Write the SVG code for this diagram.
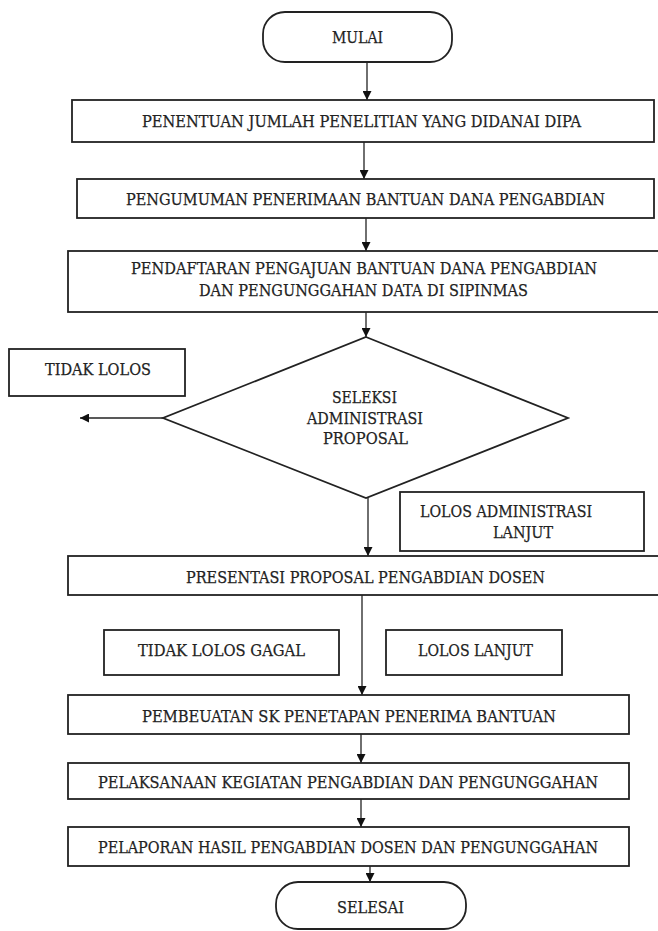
<svg xmlns="http://www.w3.org/2000/svg" width="658" height="931" viewBox="0 0 658 931">
<style>
.box{fill:#fff;stroke:#222;stroke-width:1.8}
.t{font-family:"DejaVu Serif","Liberation Serif",serif;font-size:16px;fill:#222;stroke:#222;stroke-width:0.25;text-anchor:middle;dominant-baseline:central}
.c{fill:none;stroke:#222;stroke-width:1.3}
</style>
<defs>
<marker id="ah" viewBox="0 0 10 10" refX="10" refY="5" markerWidth="9" markerHeight="9" markerUnits="userSpaceOnUse" orient="auto">
<path d="M0,0 L10,5 L0,10 z" fill="#111"/>
</marker>
</defs>
<rect width="658" height="931" fill="#fff"/>
<g id="connectors">
<line class="c" x1="367" y1="62" x2="367" y2="100" marker-end="url(#ah)"/>
<line class="c" x1="364" y1="142" x2="364" y2="179" marker-end="url(#ah)"/>
<line class="c" x1="366" y1="218" x2="366" y2="251" marker-end="url(#ah)"/>
<line class="c" x1="366" y1="312" x2="366" y2="337" marker-end="url(#ah)"/>
<line class="c" x1="163" y1="418" x2="80" y2="418" marker-end="url(#ah)"/>
<line class="c" x1="368" y1="498" x2="368" y2="556" marker-end="url(#ah)"/>
<line class="c" x1="362" y1="595" x2="362" y2="695" marker-end="url(#ah)"/>
<line class="c" x1="361" y1="734" x2="361" y2="763" marker-end="url(#ah)"/>
<line class="c" x1="361" y1="799" x2="361" y2="827" marker-end="url(#ah)"/>
<line class="c" x1="370" y1="866" x2="370" y2="882" marker-end="url(#ah)"/>
</g>
<g id="mulai">
<rect class="box" x="263" y="12" width="189" height="50" rx="22"/>
<text class="t" x="357.5" y="37" textLength="51" lengthAdjust="spacingAndGlyphs">MULAI</text>
</g>
<g id="penentuan">
<rect class="box" x="72" y="100" width="582" height="42"/>
<text class="t" x="361.5" y="121" textLength="439" lengthAdjust="spacingAndGlyphs">PENENTUAN JUMLAH PENELITIAN YANG DIDANAI DIPA</text>
</g>
<g id="pengumuman">
<rect class="box" x="77" y="179" width="577" height="39"/>
<text class="t" x="365.5" y="199" textLength="479" lengthAdjust="spacingAndGlyphs">PENGUMUMAN PENERIMAAN BANTUAN DANA PENGABDIAN</text>
</g>
<g id="pendaftaran">
<rect class="box" x="68" y="251" width="600" height="61"/>
<text class="t" x="364" y="268" textLength="466" lengthAdjust="spacingAndGlyphs">PENDAFTARAN PENGAJUAN BANTUAN DANA PENGABDIAN</text>
<text class="t" x="363.5" y="290" textLength="329" lengthAdjust="spacingAndGlyphs">DAN PENGUNGGAHAN DATA DI SIPINMAS</text>
</g>
<g id="tidak-lolos">
<rect class="box" x="9" y="349" width="176" height="47"/>
<text class="t" x="98" y="369" textLength="106" lengthAdjust="spacingAndGlyphs">TIDAK LOLOS</text>
</g>
<g id="seleksi">
<polygon class="box" points="366,337 568,418 366,498 163,418"/>
<text class="t" x="364.5" y="397" textLength="65" lengthAdjust="spacingAndGlyphs">SELEKSI</text>
<text class="t" x="365" y="418" textLength="116" lengthAdjust="spacingAndGlyphs">ADMINISTRASI</text>
<text class="t" x="365.5" y="438" textLength="85" lengthAdjust="spacingAndGlyphs">PROPOSAL</text>
</g>
<g id="lolos-administrasi">
<rect class="box" x="400" y="492" width="244" height="59"/>
<text class="t" x="506" y="511" textLength="172" lengthAdjust="spacingAndGlyphs">LOLOS ADMINISTRASI</text>
<text class="t" x="523" y="532" textLength="60" lengthAdjust="spacingAndGlyphs">LANJUT</text>
</g>
<g id="presentasi">
<rect class="box" x="68" y="556" width="600" height="39"/>
<text class="t" x="365.5" y="577" textLength="359" lengthAdjust="spacingAndGlyphs">PRESENTASI PROPOSAL PENGABDIAN DOSEN</text>
</g>
<g id="tidak-lolos-gagal">
<rect class="box" x="104" y="630" width="235" height="45"/>
<text class="t" x="221.5" y="650" textLength="167" lengthAdjust="spacingAndGlyphs">TIDAK LOLOS GAGAL</text>
</g>
<g id="lolos-lanjut">
<rect class="box" x="386" y="630" width="176" height="45"/>
<text class="t" x="475.5" y="650" textLength="115" lengthAdjust="spacingAndGlyphs">LOLOS LANJUT</text>
</g>
<g id="pembeuatan">
<rect class="box" x="68" y="695" width="561" height="39"/>
<text class="t" x="349" y="716" textLength="414" lengthAdjust="spacingAndGlyphs">PEMBEUATAN SK PENETAPAN PENERIMA BANTUAN</text>
</g>
<g id="pelaksanaan">
<rect class="box" x="68" y="763" width="561" height="36"/>
<text class="t" x="348" y="782" textLength="500" lengthAdjust="spacingAndGlyphs">PELAKSANAAN KEGIATAN PENGABDIAN DAN PENGUNGGAHAN</text>
</g>
<g id="pelaporan">
<rect class="box" x="68" y="827" width="561" height="39"/>
<text class="t" x="348" y="847" textLength="500" lengthAdjust="spacingAndGlyphs">PELAPORAN HASIL PENGABDIAN DOSEN DAN PENGUNGGAHAN</text>
</g>
<g id="selesai">
<rect class="box" x="276" y="882" width="190" height="47" rx="22"/>
<text class="t" x="370.5" y="907" textLength="67" lengthAdjust="spacingAndGlyphs">SELESAI</text>
</g>
</svg>
